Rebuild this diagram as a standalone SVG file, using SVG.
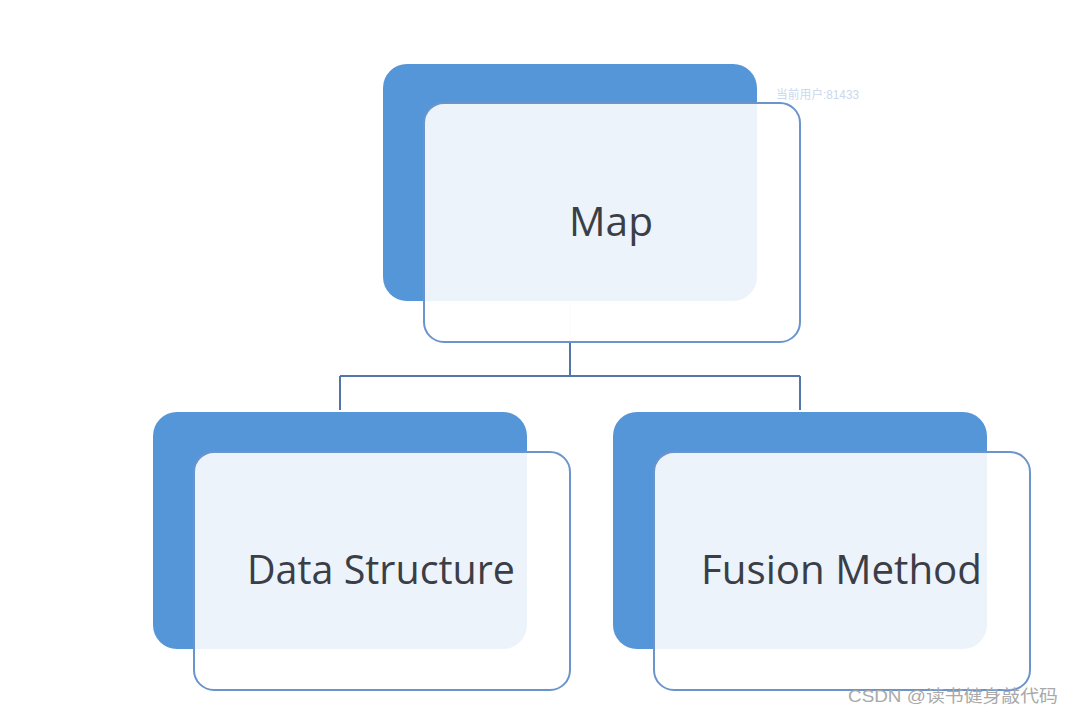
<svg xmlns="http://www.w3.org/2000/svg" width="1074" height="714" viewBox="0 0 1074 714">
<style>
.back{fill:#5596D8}
.front{fill:#FFFFFF;fill-opacity:0.89;stroke:#6B94CC;stroke-width:2}
.lbl{font-family:"Open Sans","Noto Sans",sans-serif;font-size:40px;fill:#3B3E46}
.conn{fill:none;stroke:#5276A8;stroke-width:2}
.wm{font-family:"Liberation Sans","Noto Sans CJK SC",sans-serif;font-size:12px;fill:#C9D9EE}
.csdn{font-family:"Liberation Sans","Noto Sans CJK SC",sans-serif;font-size:17px;fill:#A9A9A9}
</style>
<rect width="1074" height="714" fill="#FFFFFF"/>
<g id="connectors">
<line x1="570" y1="303" x2="570" y2="342" stroke="#E3E9F2" stroke-width="2"/>
<path class="conn" d="M570,342 V376 M340,376 H800 M340,376 V410 M800,376 V410"/>
</g>
<g id="node-map">
<rect class="back" x="383" y="64" width="374" height="237" rx="24"/>
<rect class="front" x="424" y="103" width="376" height="239" rx="20"/>
<text class="lbl" x="611" y="236" text-anchor="middle" textLength="84" lengthAdjust="spacingAndGlyphs">Map</text>
</g>
<g id="node-data-structure">
<rect class="back" x="153" y="412" width="374" height="237" rx="24"/>
<rect class="front" x="194" y="452" width="376" height="238" rx="20"/>
<text class="lbl" x="247" y="584" textLength="268" lengthAdjust="spacingAndGlyphs">Data Structure</text>
</g>
<g id="node-fusion-method">
<rect class="back" x="613" y="412" width="374" height="237" rx="24"/>
<rect class="front" x="654" y="452" width="376" height="238" rx="20"/>
<text class="lbl" x="701" y="584" textLength="281" lengthAdjust="spacingAndGlyphs">Fusion Method</text>
</g>
<text class="wm" x="776" y="99" textLength="83" lengthAdjust="spacingAndGlyphs">当前用户:81433</text>
<text class="csdn" x="848" y="702" textLength="210" lengthAdjust="spacingAndGlyphs">CSDN @读书健身敲代码</text>
</svg>
